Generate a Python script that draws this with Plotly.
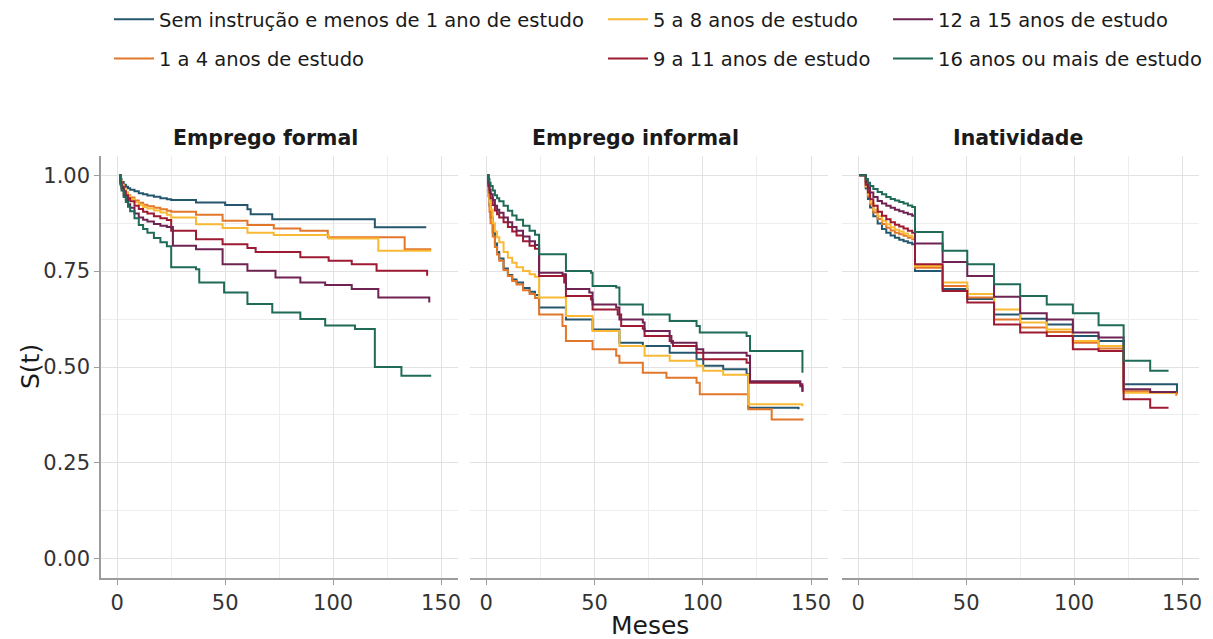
import plotly.graph_objects as go

# ---------------------------------------------------------------
# Kaplan-Meier survival estimates S(t) by years of schooling
# (t in months, S = survival level after the step at t)
# ---------------------------------------------------------------
groups = [
    "Sem instrução e menos de 1 ano de estudo",
    "1 a 4 anos de estudo",
    "5 a 8 anos de estudo",
    "9 a 11 anos de estudo",
    "12 a 15 anos de estudo",
    "16 anos ou mais de estudo",
]
colors = ["#24576E", "#E2772B", "#F9B934", "#9E1A33", "#6E2352", "#1F6B57"]
panels = ["Emprego formal", "Emprego informal", "Inatividade"]

# --- Emprego formal ---
t_formal_sem = [1, 1.5, 2, 3, 4, 5, 6, 8, 10, 12, 14, 17, 20, 23, 25, 36.5, 50, 60.3, 61.8, 71.8, 119.3, 143.1]
s_formal_sem = [1.0, 0.99, 0.982, 0.975, 0.97, 0.966, 0.962, 0.958, 0.953, 0.95, 0.947, 0.944, 0.94, 0.937, 0.935,
                0.929, 0.922, 0.911, 0.898, 0.885, 0.864, 0.864]
t_formal_1a4 = [1, 1.5, 2, 3, 4, 5, 6, 8, 10, 12, 14, 17, 20, 23, 25, 36.5, 48.8, 60.3, 72.5, 84.8, 97.5, 133.1, 145.4]
s_formal_1a4 = [1.0, 0.985, 0.975, 0.963, 0.955, 0.948, 0.942, 0.934, 0.928, 0.923, 0.919, 0.915, 0.911, 0.907, 0.905,
                0.897, 0.881, 0.870, 0.861, 0.855, 0.838, 0.807, 0.807]
t_formal_5a8 = [1, 1.5, 2, 3, 4, 5, 6, 8, 10, 12, 14, 17, 20, 23, 25, 36.5, 48.8, 60.3, 72.5, 97.9, 120.9, 145.4]
s_formal_5a8 = [1.0, 0.985, 0.974, 0.962, 0.953, 0.945, 0.938, 0.93, 0.923, 0.917, 0.913, 0.908, 0.903, 0.897, 0.89,
                0.872, 0.862, 0.85, 0.844, 0.835, 0.803, 0.803]
t_formal_9a11 = [1, 1.5, 2, 3, 4, 5, 6, 8, 10, 12, 14, 17, 20, 23, 25, 36.5, 48.8, 60.3, 64.1, 84.8, 97.9, 108.6,
                 120.1, 143.1, 143.5]
s_formal_9a11 = [1.0, 0.982, 0.97, 0.958, 0.948, 0.94, 0.932, 0.92, 0.912, 0.905, 0.9, 0.893, 0.888, 0.883, 0.855,
                 0.833, 0.82, 0.81, 0.80, 0.786, 0.777, 0.768, 0.751, 0.751, 0.738]
t_formal_12a15 = [1, 1.5, 2, 3, 4, 5, 6, 8, 10, 12, 14, 17, 20, 23, 25.8, 36.5, 48.8, 60.3, 73.3, 84.8, 96.3, 108.6,
                  120.9, 143.9, 144.5]
s_formal_12a15 = [1.0, 0.978, 0.965, 0.948, 0.935, 0.924, 0.915, 0.9, 0.89, 0.884, 0.879, 0.873, 0.868, 0.865, 0.816,
                  0.807, 0.768, 0.751, 0.733, 0.72, 0.714, 0.703, 0.681, 0.681, 0.668]
t_formal_16 = [1, 1.5, 2, 3, 4, 5, 6, 8, 10, 12, 14, 17, 20, 23, 25, 36.5, 38, 49.5, 60.3, 71.8, 84.8, 96.3, 110.1,
               119.3, 131.6, 145.4]
s_formal_16 = [1.0, 0.975, 0.96, 0.943, 0.93, 0.918, 0.906, 0.888, 0.87, 0.86, 0.85, 0.836, 0.825, 0.815, 0.76,
               0.755, 0.72, 0.694, 0.664, 0.642, 0.625, 0.608, 0.599, 0.5, 0.477, 0.477]

# --- Emprego informal ---
t_inf_sem = [0.5, 1, 1.5, 2, 3, 4, 5, 6, 8, 10, 12, 14, 17, 20, 22.5, 24.4, 36.8, 49.1, 61.5, 72.3, 84.7, 97.1,
             100.2, 109.4, 120.2, 121, 144.2]
s_inf_sem = [1.0, 0.96, 0.92, 0.89, 0.85, 0.822, 0.8, 0.783, 0.757, 0.74, 0.728, 0.72, 0.706, 0.696, 0.688,
             0.655, 0.624, 0.598, 0.563, 0.555, 0.537, 0.52, 0.503, 0.494, 0.481, 0.394, 0.39]
t_inf_1a4 = [0.5, 1, 1.5, 2, 3, 4, 5, 6, 8, 10, 12, 14, 17, 20, 22.5, 24.4, 35.2, 36.8, 49.1, 60, 61.5, 72.3, 83.2,
             97.1, 98.6, 121, 131.8, 146.5]
s_inf_1a4 = [1.0, 0.945, 0.905, 0.875, 0.84, 0.813, 0.793, 0.777, 0.753, 0.737, 0.724, 0.715, 0.7, 0.69, 0.68,
             0.637, 0.607, 0.568, 0.546, 0.529, 0.511, 0.485, 0.472, 0.459, 0.429, 0.39, 0.363, 0.363]
t_inf_5a8 = [0.5, 1, 1.5, 2, 3, 4, 5, 6, 8, 10, 12, 14, 17, 20, 22.5, 24.4, 36.8, 49.1, 61.5, 73.1, 84.7, 97.1,
             100.2, 109.4, 121, 146]
s_inf_5a8 = [1.0, 0.955, 0.93, 0.91, 0.875, 0.853, 0.838, 0.825, 0.8, 0.785, 0.772, 0.76, 0.75, 0.742, 0.735,
             0.681, 0.633, 0.594, 0.555, 0.529, 0.516, 0.503, 0.49, 0.48, 0.403, 0.398]
t_inf_9a11 = [0.5, 1, 1.5, 2, 3, 4, 5, 6, 8, 10, 12, 14, 17, 20, 22.5, 24.4, 36, 36.8, 48.4, 49.1, 60.7, 62.3,
              72.3, 73.1, 84.7, 86.2, 97.1, 100.2, 120.2, 121.8, 145, 146]
s_inf_9a11 = [1.0, 0.972, 0.955, 0.94, 0.922, 0.908, 0.898, 0.89, 0.877, 0.865, 0.853, 0.843, 0.828, 0.816, 0.808,
              0.737, 0.72, 0.685, 0.676, 0.65, 0.637, 0.607, 0.6, 0.581, 0.568, 0.555, 0.537, 0.52, 0.511, 0.459,
              0.455, 0.437]
t_inf_12a15 = [0.5, 1, 1.5, 2, 3, 4, 5, 6, 8, 10, 12, 14, 17, 20, 22.5, 24.4, 35.2, 36.8, 47.6, 49.1, 60, 61.5,
               72.3, 73.1, 84.7, 85.5, 97.1, 100.2, 120.2, 121.8, 145, 146]
s_inf_12a15 = [1.0, 0.978, 0.962, 0.95, 0.935, 0.92, 0.91, 0.902, 0.89, 0.877, 0.865, 0.855, 0.84, 0.828, 0.818,
               0.746, 0.742, 0.703, 0.694, 0.663, 0.655, 0.624, 0.616, 0.594, 0.581, 0.563, 0.546, 0.537, 0.529,
               0.463, 0.45, 0.435]
t_inf_16 = [0.5, 1, 1.5, 2, 3, 4, 5, 6, 8, 10, 12, 14, 17, 20, 22.5, 24.4, 36.8, 48.4, 49.1, 60, 61.5, 72.3, 84.7,
            97.1, 98.6, 120.2, 121.8, 145, 146]
s_inf_16 = [1.0, 0.99, 0.98, 0.972, 0.96, 0.948, 0.94, 0.932, 0.92, 0.907, 0.895, 0.884, 0.868, 0.855, 0.845,
            0.794, 0.75, 0.746, 0.711, 0.707, 0.663, 0.637, 0.62, 0.607, 0.59, 0.581, 0.542, 0.542, 0.485]

# --- Inatividade ---
t_inat = [0.5, 3.5, 4.5, 5.5, 7, 9, 11, 13, 15, 17, 19, 21, 23, 25, 26.3, 39.1, 50.5, 62.9, 75, 87.3, 99.4,
          111.3, 122.9]
t_inat_sem = t_inat + [147.3, 147.6]
s_inat_sem = [1.0, 0.965, 0.938, 0.916, 0.893, 0.874, 0.86, 0.85, 0.843, 0.837, 0.832, 0.828, 0.824, 0.82,
              0.75, 0.703, 0.677, 0.637, 0.626, 0.611, 0.581, 0.568, 0.455, 0.455, 0.43]
t_inat_1a4 = t_inat + [135.2, 147.3]
s_inat_1a4 = [1.0, 0.97, 0.945, 0.924, 0.903, 0.886, 0.873, 0.863, 0.856, 0.85, 0.846, 0.842, 0.837, 0.833,
              0.759, 0.711, 0.681, 0.624, 0.603, 0.591, 0.563, 0.548, 0.437, 0.433, 0.425]
t_inat_5a8 = t_inat + [147.3]
s_inat_5a8 = [1.0, 0.972, 0.95, 0.929, 0.91, 0.893, 0.881, 0.872, 0.864, 0.858, 0.853, 0.848, 0.842, 0.837,
              0.763, 0.72, 0.69, 0.65, 0.616, 0.598, 0.568, 0.555, 0.433, 0.433]
t_inat_9a11 = t_inat + [135.2, 143.7]
s_inat_9a11 = [1.0, 0.975, 0.955, 0.937, 0.92, 0.905, 0.894, 0.885, 0.877, 0.871, 0.866, 0.861, 0.855, 0.85,
               0.768, 0.698, 0.668, 0.611, 0.59, 0.581, 0.546, 0.542, 0.416, 0.394, 0.394]
t_inat_12a15 = t_inat + [135.2, 147.3]
s_inat_12a15 = [1.0, 0.982, 0.968, 0.955, 0.943, 0.933, 0.926, 0.92, 0.915, 0.91, 0.906, 0.902, 0.898, 0.894,
                0.822, 0.774, 0.737, 0.683, 0.64, 0.624, 0.59, 0.577, 0.442, 0.435, 0.435]
t_inat_16 = t_inat + [135.2, 143.7]
s_inat_16 = [1.0, 0.99, 0.98, 0.972, 0.964, 0.956, 0.95, 0.943, 0.938, 0.934, 0.93, 0.926, 0.921, 0.917,
             0.852, 0.803, 0.768, 0.716, 0.685, 0.663, 0.64, 0.609, 0.516, 0.49, 0.49]

x_ticks = [0, 50, 100, 150]
y_ticks = [0.0, 0.25, 0.5, 0.75, 1.0]

curves = [
    [(t_formal_sem, s_formal_sem), (t_formal_1a4, s_formal_1a4), (t_formal_5a8, s_formal_5a8),
     (t_formal_9a11, s_formal_9a11), (t_formal_12a15, s_formal_12a15), (t_formal_16, s_formal_16)],
    [(t_inf_sem, s_inf_sem), (t_inf_1a4, s_inf_1a4), (t_inf_5a8, s_inf_5a8),
     (t_inf_9a11, s_inf_9a11), (t_inf_12a15, s_inf_12a15), (t_inf_16, s_inf_16)],
    [(t_inat_sem, s_inat_sem), (t_inat_1a4, s_inat_1a4), (t_inat_5a8, s_inat_5a8),
     (t_inat_9a11, s_inat_9a11), (t_inat_12a15, s_inat_12a15), (t_inat_16, s_inat_16)],
]

# each legend column holds two groups
legend_of_group = ["legend", "legend", "legend2", "legend2", "legend3", "legend3"]

FONT = "DejaVu Sans"
W, H = 1213, 639
ML, MR, MT, MB = 101, 14, 156, 61
plot_w = W - ML - MR
plot_h = H - MT - MB

# panel pixel extents -> paper domains
panel_px = [(101, 458), (470, 828), (842, 1199)]
domains = [[(a - ML) / plot_w, (b - ML) / plot_w] for a, b in panel_px]
strip_center_px = [265, 635, 1018]

fig = go.Figure()
for p in range(3):
    xa = "x" if p == 0 else f"x{p + 1}"
    ya = "y" if p == 0 else f"y{p + 1}"
    for g in range(6):
        t, s = curves[p][g]
        fig.add_trace(go.Scatter(
            x=t, y=s, mode="lines", line=dict(color=colors[g], width=2, shape="hv"),
            name=groups[g], legendgroup=groups[g], legend=legend_of_group[g],
            showlegend=(p == 0), xaxis=xa, yaxis=ya,
        ))

axis_grey = "#9C9C9C"
grid_major = "#E2E2E2"
grid_minor = "#EEEEEE"
tick_font = dict(family=FONT, size=21, color="#333333")

layout = dict(
    width=W, height=H,
    margin=dict(l=ML, r=MR, t=MT, b=MB, autoexpand=False),
    paper_bgcolor="white", plot_bgcolor="white",
    font=dict(family=FONT, color="#1A1A1A"),
)
for p in range(3):
    xk = "xaxis" if p == 0 else f"xaxis{p + 1}"
    yk = "yaxis" if p == 0 else f"yaxis{p + 1}"
    xa = "x" if p == 0 else f"x{p + 1}"
    ya = "y" if p == 0 else f"y{p + 1}"
    layout[xk] = dict(
        domain=domains[p], anchor=ya, range=[-7.5, 157.8],
        tickmode="array", tickvals=x_ticks, ticktext=[str(v) for v in x_ticks],
        ticks="outside", ticklen=5, tickwidth=1.3, tickcolor=axis_grey,
        showline=True, linecolor=axis_grey, linewidth=1.5,
        showgrid=True, gridcolor=grid_major, gridwidth=1.2,
        minor=dict(dtick=25, tick0=0, showgrid=True, gridcolor=grid_minor, gridwidth=0.9),
        zeroline=False, tickfont=tick_font, fixedrange=True,
    )
    layout[yk] = dict(
        domain=[0, 1], anchor=xa, range=[-0.05, 1.05],
        tickmode="array", tickvals=y_ticks, ticktext=[f"{v:.2f}" for v in y_ticks],
        showticklabels=(p == 0),
        ticks="outside" if p == 0 else "", ticklen=5, tickwidth=1.3, tickcolor=axis_grey,
        showline=(p == 0), linecolor=axis_grey, linewidth=1.5,
        showgrid=True, gridcolor=grid_major, gridwidth=1.2,
        minor=dict(dtick=0.125, tick0=0, showgrid=True, gridcolor=grid_minor, gridwidth=0.9),
        zeroline=False, tickfont=tick_font, fixedrange=True,
    )

# three legend columns, two entries each
legend_common = dict(
    xref="container", yref="container", xanchor="left", yanchor="top",
    orientation="v", bgcolor="rgba(0,0,0,0)", borderwidth=0,
    font=dict(family=FONT, size=19.5, color="#1A1A1A"),
    tracegroupgap=11, itemwidth=40,
)
legend_x_px = [109, 603, 888]
for i, key in enumerate(["legend", "legend2", "legend3"]):
    layout[key] = dict(legend_common, x=legend_x_px[i] / W, y=1.0)

annotations = []
for p in range(3):
    annotations.append(dict(
        text=f"<b>{panels[p]}</b>", x=(strip_center_px[p] - ML) / plot_w, y=(H - MB - 138) / plot_h,
        xref="paper", yref="paper", xanchor="center", yanchor="middle",
        showarrow=False, font=dict(family=FONT, size=20.5, color="#1A1A1A"),
    ))
annotations.append(dict(
    text="Meses", x=0.5, y=-(625 - (H - MB)) / plot_h,
    xref="paper", yref="paper", xanchor="center", yanchor="middle",
    showarrow=False, font=dict(family=FONT, size=25, color="#1A1A1A"),
))
annotations.append(dict(
    text="S(t)", x=(30 - ML) / plot_w, y=0.5,
    xref="paper", yref="paper", xanchor="center", yanchor="middle",
    showarrow=False, textangle=-90, font=dict(family=FONT, size=25, color="#1A1A1A"),
))
layout["annotations"] = annotations

fig.update_layout(**layout)
fig.write_html("out.html")
